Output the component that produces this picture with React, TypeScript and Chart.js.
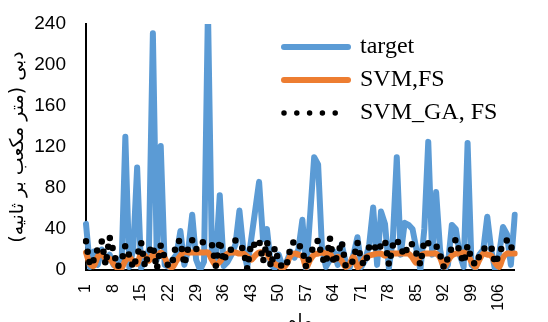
import React, { useEffect, useRef } from 'react';
import { Chart, registerables } from 'chart.js';

Chart.register(...registerables);

const categories = [
  '1','2','3','4','5','6','7','8','9','10',
  '11','12','13','14','15','16','17','18','19','20',
  '21','22','23','24','25','26','27','28','29','30',
  '31','32','33','34','35','36','37','38','39','40',
  '41','42','43','44','45','46','47','48','49','50',
  '51','52','53','54','55','56','57','58','59','60',
  '61','62','63','64','65','66','67','68','69','70',
  '71','72','73','74','75','76','77','78','79','80',
  '81','82','83','84','85','86','87','88','89','90',
  '91','92','93','94','95','96','97','98','99','100',
  '101','102','103','104','105','106','107','108','109','110',
];

const shownTicks = ['1','8','15','22','29','36','43','50','57','64','71','78','85','92','99','106'];

const target = [
  45, 3, 18, 5, 20, 8, 15, 5, 10, 0,
  130, 3, 20, 100, 2, 10, 20, 231, 10, 121,
  5, 3, 10, 15, 38, 5, 20, 54, 10, 0,
  8, 255, 15, 10, 73, 4, 8, 15, 25, 58,
  20, 3, 30, 58, 86, 30, 40, 5, 2, 15,
  3, 8, 18, 12, 20, 49, 0, 55, 110, 103,
  20, 3, 10, 18, 5, 25, 8, 2, 15, 32,
  3, 10, 25, 61, 5, 57, 45, 2, 30, 110,
  15, 46, 44, 40, 20, 0, 40, 125, 15, 76,
  20, 0, 5, 44, 40, 15, 3, 124, 5, 2,
  15, 20, 52, 20, 0, 15, 42, 35, 5, 54,
];

const svmFs = [
  17, 6, 4, 13, 16, 11, 11, 6, 2, 2,
  9, 13, 8, 6, 16, 14, 9, 15, 13, 17,
  12, 4, 3, 9, 14, 18, 17, 17, 17, 17,
  17, 17, 10, 5, 8, 13, 16, 17, 17, 16,
  16, 13, 10, 14, 17, 17, 16, 10, 6, 4,
  2, 6, 14, 16, 15, 13, 3, 10, 15, 16,
  17, 16, 16, 10, 13, 9, 3, 6, 13, 3,
  6, 12, 14, 15, 16, 16, 14, 16, 16, 16,
  16, 16, 16, 12, 7, 14, 16, 16, 16, 16,
  12, 3, 9, 14, 16, 16, 17, 15, 8, 3,
  10, 16, 15, 14, 7, 3, 12, 16, 16, 16,
];

const svmGaFs = [
  28, 4, 10, 21, 28, 5, 32, 18, 3, 8,
  24, 14, 2, 14, 27, 3, 18, 24, 1, 24,
  12, 3, 8, 27, 29, 5, 22, 29, 20, 27,
  27, 27, 25, 4, 29, 8, 19, 20, 29, 25,
  20, 1, 27, 24, 29, 8, 28, 3, 22, 8,
  2, 5, 22, 29, 25, 20, 2, 15, 24, 29,
  12, 6, 31, 6, 15, 28, 4, 3, 10, 27,
  8, 5, 23, 26, 18, 24, 29, 5, 24, 30,
  21, 14, 26, 25, 16, 5, 29, 26, 23, 24,
  15, 2, 12, 22, 30, 17, 7, 24, 10, 5,
  14, 20, 24, 23, 6, 15, 25, 29, 21, 27,
];

const seriesNames = ['target', 'SVM,FS', 'SVM_GA, FS'];
const yTitle = 'دبی (متر مکعب بر ثانیه)';
const xTitle = 'ماه';

const SERIF = '"Liberation Serif", "Times New Roman", serif';
const SANS = '"Liberation Sans", Arial, sans-serif';
const ARABIC = '"DejaVu Sans", sans-serif';

const legendMover = {
  id: 'legendMover',
  afterLayout(chart: any) {
    const lg = chart.legend;
    if (!lg) return;
    const ca = chart.chartArea;
    const w = lg.width;
    const h = lg.height;
    const left = ca.left + 189;
    const top = ca.top + 2;
    lg.left = left;
    lg.right = left + w;
    lg.top = top;
    lg.bottom = top + h;
  },
};

export default function App() {
  const ref = useRef<HTMLCanvasElement | null>(null);

  useEffect(() => {
    if (!ref.current) return;
    const chart = new Chart(ref.current, {
      type: 'line',
      data: {
        labels: categories,
        datasets: [
          {
            label: seriesNames[0],
            data: target,
            borderColor: '#5B9BD5',
            backgroundColor: '#5B9BD5',
            borderWidth: 6,
            pointRadius: 0,
            tension: 0,
            borderCapStyle: 'round',
            borderJoinStyle: 'round',
            order: 3,
          },
          {
            label: seriesNames[1],
            data: svmFs,
            borderColor: '#ED7D31',
            backgroundColor: '#ED7D31',
            borderWidth: 6,
            pointRadius: 0,
            tension: 0.35,
            borderCapStyle: 'round',
            borderJoinStyle: 'round',
            order: 2,
          },
          {
            label: seriesNames[2],
            data: svmGaFs,
            borderColor: '#000000',
            backgroundColor: '#000000',
            borderWidth: 6.5,
            borderDash: [0, 10.5],
            pointRadius: 0,
            tension: 0,
            borderCapStyle: 'round',
            borderJoinStyle: 'round',
            order: 1,
          },
        ],
      },
      options: {
        animation: false,
        responsive: false,
        maintainAspectRatio: false,
        layout: { padding: { left: 0, right: 0, top: 24, bottom: 0 } },
        plugins: {
          tooltip: { enabled: false },
          legend: {
            display: true,
            position: 'chartArea' as any,
            align: 'start',
            labels: {
              usePointStyle: true,
              pointStyleWidth: 64,
              boxHeight: 10,
              padding: 9,
              color: '#000',
              font: { family: SERIF, size: 24 },
              generateLabels: (ch: any) =>
                ch.data.datasets.map((ds: any, i: number) => ({
                  text: ds.label,
                  datasetIndex: i,
                  fillStyle: ds.borderColor,
                  strokeStyle: ds.borderColor,
                  lineWidth: ds.borderDash ? 5.5 : ds.borderWidth,
                  lineCap: 'round',
                  lineDash: ds.borderDash ? [0, 12.8] : [],
                  lineDashOffset: 0,
                  lineJoin: 'round',
                  pointStyle: 'line',
                  rotation: 0,
                  hidden: false,
                  fontColor: '#000',
                })),
            },
          },
        },
        scales: {
          x: {
            type: 'category',
            offset: false,
            grid: { display: false, drawTicks: false },
            border: { display: true, color: '#000', width: 2 },
            ticks: {
              autoSkip: false,
              minRotation: 90,
              maxRotation: 90,
              padding: 14,
              color: '#000',
              font: { family: SANS, size: 16 },
              callback: function (this: any, _v: any, index: number) {
                const lab = categories[index];
                return shownTicks.includes(lab) ? lab : '';
              },
            },
            title: {
              display: true,
              text: xTitle,
              color: '#000',
              font: { family: ARABIC, size: 18 },
              padding: { top: 0, bottom: 13 },
            },
            afterFit: (scale: any) => {
              scale.height = 76;
            },
          },
          y: {
            min: 0,
            max: 240,
            grid: { display: false, drawTicks: false },
            border: { display: true, color: '#000', width: 2 },
            ticks: {
              stepSize: 40,
              padding: 20,
              color: '#000',
              font: { family: SANS, size: 19 },
            },
            title: {
              display: true,
              text: yTitle,
              color: '#000',
              font: { family: ARABIC, size: 19 },
              padding: { top: 7, bottom: 0 },
            },
            afterFit: (scale: any) => {
              scale.width = 86;
              scale.paddingTop = 0;
              scale.paddingBottom = 0;
            },
          },
        },
      },
      plugins: [legendMover],
    });

    let alive = true;
    const fonts: any = (document as any).fonts;
    if (fonts && fonts.load) {
      Promise.all([
        fonts.load(`24px ${SERIF}`),
        fonts.load(`19px ${SANS}`),
        fonts.load(`19px ${ARABIC}`, 'دبی'),
      ])
        .then(() => {
          if (alive) chart.update();
        })
        .catch(() => {});
    }
    return () => {
      alive = false;
      chart.destroy();
    };
  }, []);

  return (
    <div
      style={{
        position: 'fixed',
        left: 0,
        top: 0,
        width: 548,
        height: 322,
        overflow: 'hidden',
        background: '#fff',
      }}
    >
      <span style={{ position: 'absolute', left: -1000, fontFamily: SERIF, fontSize: 24 }}>target</span>
      <span style={{ position: 'absolute', left: -1000, fontFamily: ARABIC, fontSize: 19 }}>دبی</span>
      <canvas ref={ref} width={548} height={346} style={{ display: 'block' }} />
    </div>
  );
}
